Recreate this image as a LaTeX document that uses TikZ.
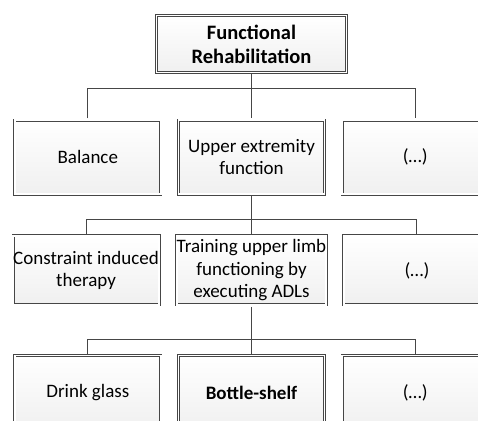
\documentclass[tikz,border=0pt]{standalone}
\usepackage{fontspec}
\setmainfont{Carlito}
\usetikzlibrary{positioning}

\begin{document}
\begin{tikzpicture}[-,
					auto,
					node distance=17pt,
					line width=0.7pt,
					main node/.style={rectangle,draw=gray!55!black,double=white,
						double distance=1.6pt,top color=white,bottom color=gray!12,
						minimum width=146pt,minimum height=74pt,inner sep=0pt,
						align=center,font=\fontsize{19}{22.5}\selectfont},
					wire/.style={draw=gray!55!black,line width=1pt,
						shorten <=1.5pt,shorten >=1.5pt}]

  \useasboundingbox (0,0) rectangle (478pt,-420pt);

  % top
  \node[main node,minimum width=190pt,minimum height=57pt,font=\fontsize{20.5}{24}\selectfont\bfseries]
    (func) at (251.5pt,-44pt) {Functional\\Rehabilitation};

  % first level
  \node[main node] (upper) [below=47pt of func] {Upper extremity\\function};
  \node[main node] (bal) [left=of upper] {Balance};
  \node[main node] (dots1) [right=of upper] {(…)};

  % second level
  \node[main node,minimum height=69pt] (train) [below=41pt of upper] {Training upper limb\\functioning by\\executing ADLs};
  \node[main node,minimum height=69pt] (cit) [left=of train] {Constraint induced\\therapy};
  \node[main node,minimum height=69pt] (dots2) [right=of train] {(…)};

  % third level
  \node[main node,font=\fontsize{19}{22.5}\selectfont\bfseries] (bottle) [below=50pt of train] {Bottle-shelf};
  \node[main node] (glass) [left=of bottle] {Drink glass};
  \node[main node] (dots3) [right=of bottle] {(…)};

  \path[wire]
    (func.south) edge (upper.north)
    (upper.south) edge (train.north)
    (train.south) edge (bottle.north);
  \draw[wire] (bal.north) -- ++(0,31pt) -| (dots1.north);
  \draw[wire] (cit.north) -- ++(0,16.5pt) -| (dots2.north);
  \draw[wire] (glass.north) -- ++(0,15.5pt) -| (dots3.north);
\end{tikzpicture}
\end{document}
